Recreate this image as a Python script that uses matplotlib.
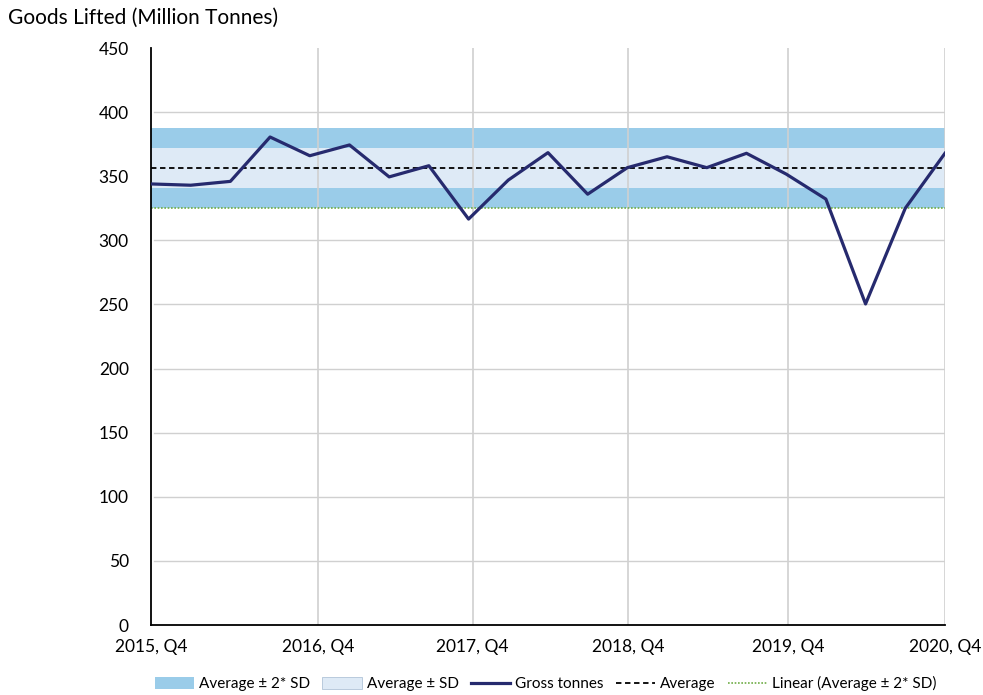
import numpy as np
import matplotlib
matplotlib.use('Agg')
from matplotlib import pyplot as plt
from matplotlib.patches import Patch
from matplotlib.lines import Line2D

plt.rcParams['font.family'] = ['Lato', 'DejaVu Sans']

# quarterly goods lifted, 2015 Q4 .. 2020 Q4
gross_tonnes = [344, 343, 346, 380.6, 366, 374.4, 349.5, 358.2, 316.6, 347, 368.4,
                336, 356.7, 365.2, 356.7, 367.9, 351.7, 332.2, 250.4, 325, 367.9]
average = 356.5
sd = 15.6
year_labels = ['2015, Q4', '2016, Q4', '2017, Q4', '2018, Q4', '2019, Q4', '2020, Q4']
year_pos = [0, 4.2, 8.1, 12.02, 16.05, 20]
y_ticks = list(range(0, 451, 50))

x = np.arange(len(gross_tonnes))

fig = plt.figure(figsize=(9.83, 6.95), dpi=100)
ax = fig.add_axes([0.1536, 0.1007, 0.8077, 0.8302])

# bands
ax.fill_between(x, average - 2 * sd, average + 2 * sd, color='#9ACCE9', lw=0, zorder=1)
ax.fill_between(x, average - sd, average + sd, color='#DEEAF6', lw=0, zorder=1.1)

# grid
for yt in y_ticks[1:-1]:
    ax.axhline(yt, xmin=0.004, color='#D0D0D0', lw=1, zorder=0.5)
for xp in year_pos[1:]:
    ax.axvline(xp, color='#D0D0D0', lw=1.2, zorder=1.5)

ax.plot(x, np.full(len(x), average - 2 * sd), color='#70AD47', lw=1.2, ls=(0, (1, 1)), zorder=2)
ax.plot(x, np.full(len(x), average), color='black', lw=1.3, ls=(0, (3, 2)), zorder=2.5)
ax.plot(x, gross_tonnes, color='#262A6E', lw=2.3, zorder=3)

ax.set_xlim(0, 20)
ax.set_ylim(0, 450)
ax.set_yticks(y_ticks)
ax.set_xticks(year_pos)
ax.set_xticklabels(year_labels)
ax.tick_params(axis='both', length=0, labelsize=12.5, colors='black')
ax.tick_params(axis='y', pad=16)
ax.tick_params(axis='x', pad=10)
for s in ['top', 'right']:
    ax.spines[s].set_visible(False)
ax.spines['left'].set_linewidth(1.3)
ax.spines['bottom'].set_linewidth(1.3)

fig.text(0.008, 0.975, 'Goods Lifted (Million Tonnes)', fontsize=15, va='center', ha='left')

handles = [
    Patch(facecolor='#9ACCE9', edgecolor='none'),
    Patch(facecolor='#DEEAF6', edgecolor='#B0C4D8', lw=0.6),
    Line2D([], [], color='#262A6E', lw=2.3),
    Line2D([], [], color='black', lw=1.3, ls=(0, (3, 2))),
    Line2D([], [], color='#70AD47', lw=1.2, ls=(0, (1, 1))),
]
labels = ['Average \u00b1 2* SD', 'Average \u00b1 SD', 'Gross tonnes', 'Average', 'Linear (Average \u00b1 2* SD)']
fig.legend(handles, labels, loc='center', bbox_to_anchor=(0.555, 0.016), ncol=5, frameon=False,
           fontsize=11, handlelength=2.6, handleheight=0.8, columnspacing=0.8, handletextpad=0.3)

fig.savefig('out.png', dpi=100)
